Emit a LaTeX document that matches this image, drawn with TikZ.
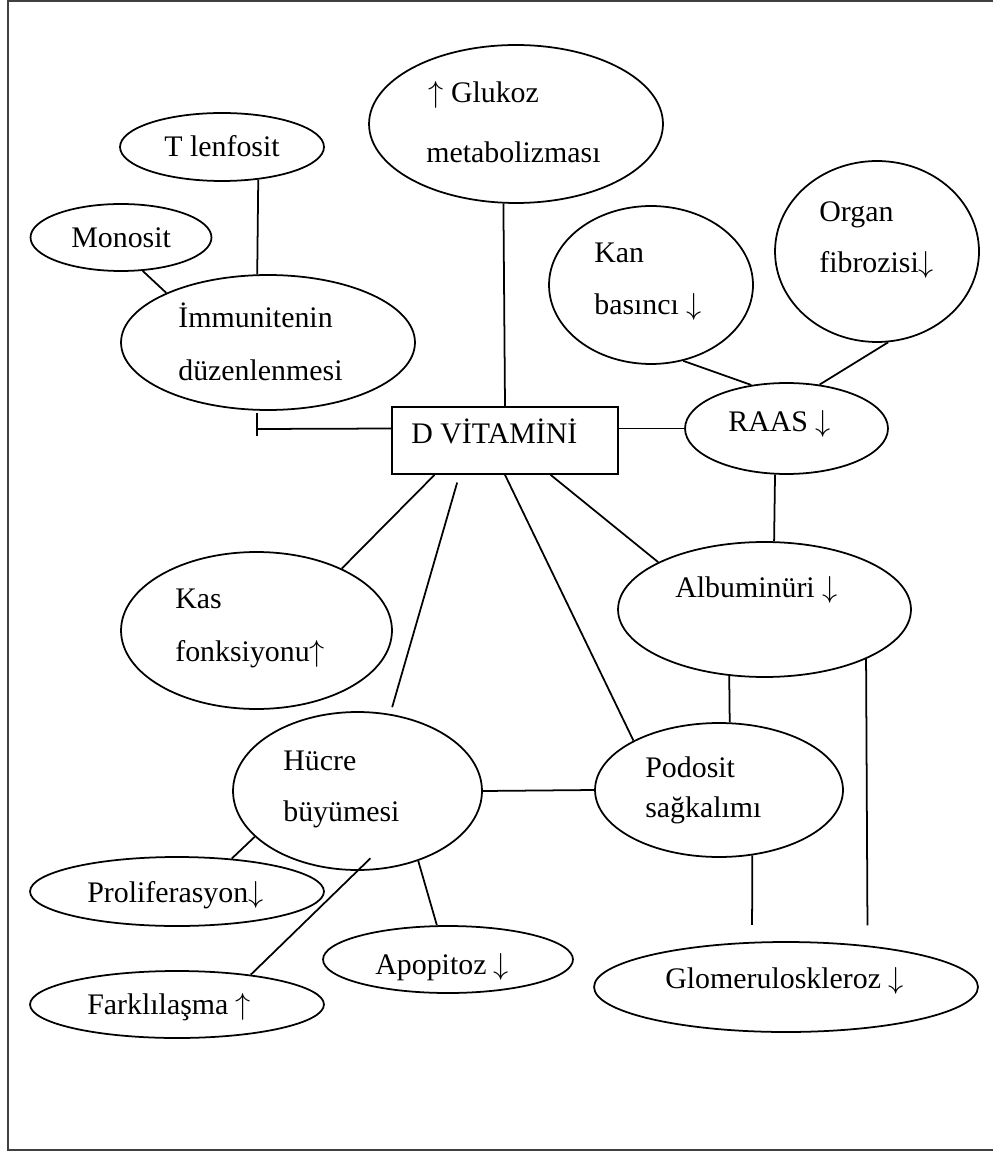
\documentclass[tikz,border=0pt]{standalone}
\usepackage{fontspec}
\setmainfont{Liberation Serif}
\usepackage{tikz}
\usetikzlibrary{shapes.geometric}

\newcommand{\up}{$\uparrow$}
\newcommand{\dn}{$\downarrow$}

\tikzset{
  oval/.style={draw, ellipse, line width=1pt, inner sep=0pt},
  box/.style={draw, rectangle, line width=1pt, inner sep=0pt},
  txt/.style={anchor=base west, inner sep=0pt, font=\fontsize{17}{20}\selectfont},
  link/.style={line width=1pt},
  frame/.style={line width=1.2pt, black!75}
}

\begin{document}
\begin{tikzpicture}[x=0.02cm, y=-0.02cm]
		\useasboundingbox (0,0) rectangle (993,1151);
		\draw[frame] (993,1) -- (8,1) -- (8,1150) -- (993,1150);

		% shapes
		\node[box, minimum width=4.52cm, minimum height=1.34cm] (dvit) at (505,440.5) {};
		\node[oval, minimum width=4.08cm, minimum height=1.36cm] (tlenf) at (222,147) {};
		\node[oval, minimum width=3.62cm, minimum height=1.34cm] (mono) at (121,237.5) {};
		\node[oval, minimum width=5.88cm, minimum height=2.70cm] (imm) at (268,342.5) {};
		\node[oval, minimum width=5.88cm, minimum height=3.16cm] (gluk) at (516,124) {};
		\node[oval, minimum width=4.08cm, minimum height=3.16cm] (kan) at (651,285) {};
		\node[oval, minimum width=4.08cm, minimum height=3.62cm] (organ) at (877,251.5) {};
		\node[oval, minimum width=4.06cm, minimum height=1.82cm] (raas) at (786.5,428.5) {};
		\node[oval, minimum width=5.86cm, minimum height=2.70cm] (alb) at (764.5,609.5) {};
		\node[oval, minimum width=5.42cm, minimum height=3.14cm] (kas) at (256.5,630.5) {};
		\node[oval, minimum width=4.98cm, minimum height=3.16cm] (hucre) at (357.5,791) {};
		\node[oval, minimum width=4.96cm, minimum height=2.68cm] (podo) at (719,790) {};
		\node[oval, minimum width=5.88cm, minimum height=1.38cm] (prolif) at (177,891.5) {};
		\node[oval, minimum width=5.88cm, minimum height=1.34cm] (fark) at (177,1004.5) {};
		\node[oval, minimum width=5.00cm, minimum height=1.34cm] (apop) at (448,959.5) {};
		\node[oval, minimum width=7.68cm, minimum height=1.80cm] (glom) at (786,987) {};

		% texts
		\node[txt] (dvit-t) at (411,443) {D VİTAMİNİ};
		\node[txt] (tlenf-t) at (164,157) {T lenfosit};
		\node[txt] (mono-t) at (71,248) {Monosit};
		\node[txt] (imm-t1) at (178,328) {İmmunitenin};
		\node[txt] (imm-t2) at (178,381) {düzenlenmesi};
		\node[txt] (gluk-t1) at (428,103) {\up{} Glukoz};
		\node[txt] (gluk-t2) at (426,163) {metabolizması};
		\node[txt] (kan-t1) at (594,263) {Kan};
		\node[txt] (kan-t2) at (594,315) {basıncı \dn};
		\node[txt] (organ-t1) at (819,222) {Organ};
		\node[txt] (organ-t2) at (819,273) {fibrozisi\dn};
		\node[txt] (raas-t) at (728,432) {RAAS \dn};
		\node[txt] (alb-t) at (675,597) {Albuminüri \dn};
		\node[txt] (kas-t1) at (175,608) {Kas};
		\node[txt] (kas-t2) at (175,661) {fonksiyonu\up};
		\node[txt] (hucre-t1) at (283,770) {Hücre};
		\node[txt] (hucre-t2) at (283,821) {büyümesi};
		\node[txt] (podo-t1) at (645,777) {Podosit};
		\node[txt] (podo-t2) at (645,817) {sağkalımı};
		\node[txt] (prolif-t) at (87,902) {Proliferasyon\dn};
		\node[txt] (fark-t) at (87,1014) {Farklılaşma \up};
		\node[txt] (apop-t) at (375,974) {Apopitoz \dn};
		\node[txt] (glom-t) at (665,988) {Glomeruloskleroz \dn};

		% connectors
		\coordinate (inhib) at (257,429);
		\draw[link] (tlenf.-42) -- (imm.99);
		\draw[link] (mono.-57) -- (imm.154);
		\draw[link] (gluk.-99) -- (dvit.north);
		\draw[link] (raas.west -| dvit.west) -- (inhib);
		\draw[link] (inhib) ++(0,-16) -- ++(0,23);
		\draw[link] (raas.west -| dvit.east) -- (raas.west);
		\draw[link] (kan.-67) -- (raas.129);
		\draw[link] (organ.-83) -- (raas.53);
		\draw[link] (raas.-104) -- (alb.82);
		\draw[link] (dvit.-37) -- (alb.156);
		\draw[link] (dvit.south) -- (podo.150);
		\draw[link] (alb.-118) -- (podo.81);
		\draw[link, shorten >=0.4cm] (alb.-26) -- (glom.27);
		\draw[link, shorten >=0.34cm] (podo.-63) -- (glom.127.5);
		\draw[link] (hucre.east) -- (podo.west);
		\draw[link, shorten <=0.16cm, shorten >=0.14cm] (dvit.-143) -- (hucre.67);
		\draw[link] (dvit.-154) -- (kas.36);
		\draw[link] (hucre.-156) -- (prolif.31);
		\draw[link, shorten <=-0.36cm] (hucre.south) -- (fark.22);
		\draw[link] (hucre.-49) -- (apop.108);
	\end{tikzpicture}
\end{document}
